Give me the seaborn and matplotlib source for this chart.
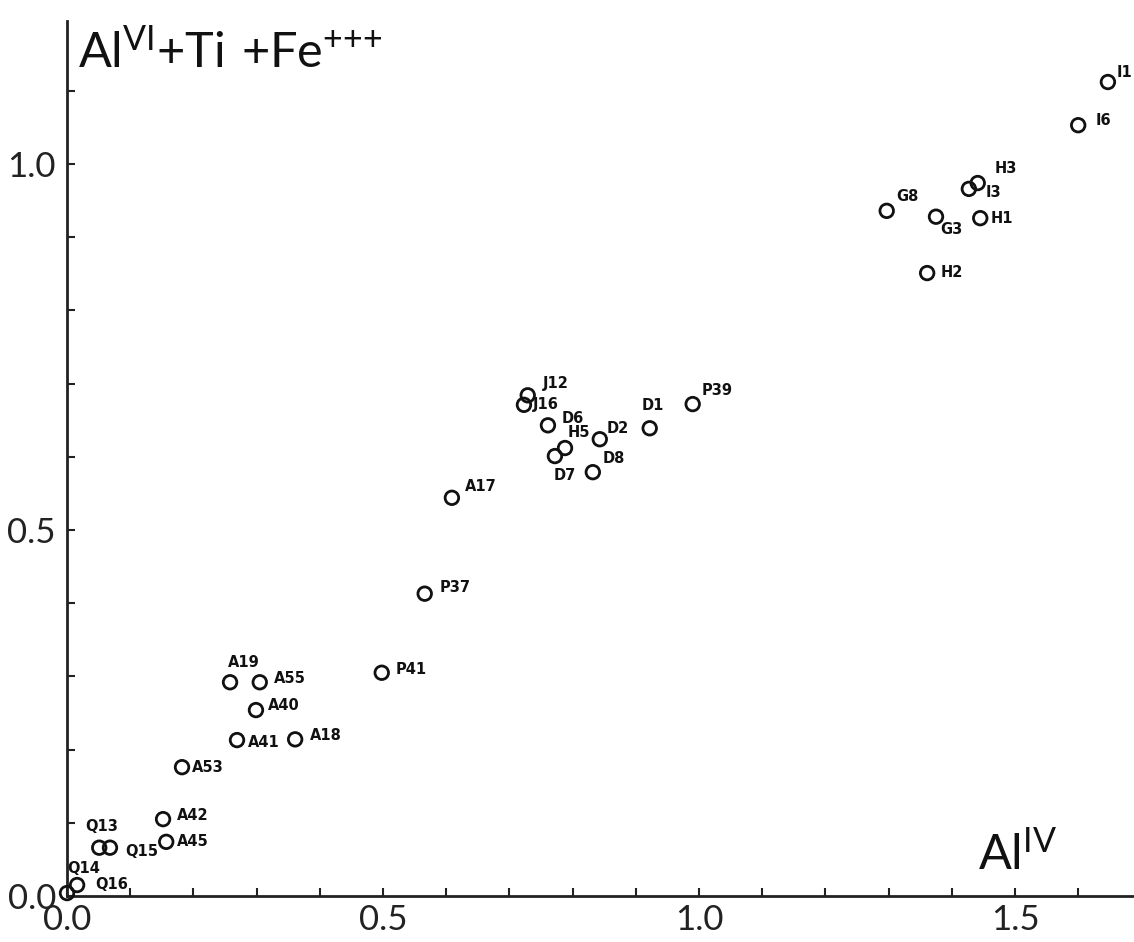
import matplotlib
matplotlib.use("Agg")
import matplotlib.pyplot as plt
import seaborn as sns
import pandas as pd
from matplotlib.ticker import MultipleLocator

# Sample points
labels = ["Q16", "Q14", "Q13", "Q15", "A42", "A45", "A53", "A41", "A18", "A40",
          "A19", "A55", "P41", "P37", "A17", "J12", "J16", "D6", "H5", "D7",
          "D2", "D8", "D1", "P39", "G8", "G3", "H1", "H2", "I3", "H3", "I6", "I1"]
al_iv = [0.000, 0.016, 0.051, 0.068, 0.152, 0.157, 0.182, 0.269, 0.361, 0.299,
         0.258, 0.305, 0.498, 0.566, 0.609, 0.729, 0.723, 0.761, 0.788, 0.772,
         0.843, 0.832, 0.922, 0.990, 1.297, 1.375, 1.445, 1.361, 1.427, 1.441, 1.600, 1.647]
al_vi_ti_fe = [0.004, 0.015, 0.066, 0.066, 0.105, 0.074, 0.176, 0.213, 0.214, 0.254,
               0.292, 0.292, 0.305, 0.413, 0.544, 0.684, 0.671, 0.643, 0.612, 0.601,
               0.624, 0.579, 0.639, 0.672, 0.936, 0.928, 0.926, 0.851, 0.966, 0.974, 1.053, 1.112]

x_ticks = [0.0, 0.5, 1.0, 1.5]
y_ticks = [0.0, 0.5, 1.0]

# label placement (pixel offsets from the marker, alignment)
label_pos = {
    "Q16": (28, 9, "left"), "Q14": (7, 17, "center"), "Q13": (2, 21, "center"),
    "Q15": (15, -4, "left"), "A42": (14, 4, "left"), "A45": (11, 0, "left"),
    "A53": (10, 0, "left"), "A41": (11, -2, "left"), "A18": (15, 4, "left"),
    "A40": (12, 5, "left"), "A19": (14, 20, "center"), "A55": (14, 4, "left"),
    "P41": (14, 3, "left"), "P37": (15, 6, "left"), "A17": (13, 11, "left"),
    "J12": (15, 12, "left"), "J16": (9, 0, "left"), "D6": (14, 7, "left"),
    "H5": (3, 16, "left"), "D7": (10, -19, "center"), "D2": (7, 11, "left"),
    "D8": (10, 14, "left"), "D1": (3, 23, "center"), "P39": (9, 14, "left"),
    "G8": (10, 14, "left"), "G3": (4, -13, "left"), "H1": (10, 0, "left"),
    "H2": (13, 1, "left"), "I3": (17, -4, "left"), "H3": (17, 15, "left"),
    "I6": (17, 5, "left"), "I1": (9, 10, "left"),
}

df = pd.DataFrame({"label": labels, "x": al_iv, "y": al_vi_ti_fe})

sns.set_style("ticks")
plt.rcParams["font.family"] = ["Lato", "DejaVu Sans"]
plt.rcParams["mathtext.default"] = "regular"

fig = plt.figure(figsize=(11.34, 9.42), dpi=100)
W, H = 1134, 942
ax = fig.add_axes([67 / W, 1 - 896 / H, (W - 67) / W, (896 - 21) / H])

sns.scatterplot(data=df, x="x", y="y", ax=ax, marker="o", s=95,
                facecolor="none", edgecolor="#111111", linewidth=2.0,
                legend=False, clip_on=False, zorder=5)

for _, row in df.iterrows():
    dx, dy, ha = label_pos[row["label"]]
    ax.annotate(row["label"], (row["x"], row["y"]), xytext=(dx, dy),
                textcoords="offset pixels", ha=ha, va="center",
                fontsize=10.5, fontweight="bold", color="#111111",
                family="DejaVu Sans", annotation_clip=False)

ax.set_xlim(0, (W - 67) / 632)
ax.set_ylim(0, (896 - 21) / 732)
ax.set_xticks(x_ticks)
ax.set_yticks(y_ticks)
ax.set_xticklabels([f"{v:.1f}" for v in x_ticks])
ax.set_yticklabels([f"{v:.1f}" for v in y_ticks])
ax.xaxis.set_minor_locator(MultipleLocator(0.1))
ax.yaxis.set_minor_locator(MultipleLocator(0.1))
ax.tick_params(which="both", direction="in", length=6, width=1.5, color="#222222")
ax.tick_params(axis="both", which="major", labelsize=25, labelcolor="#222222")
ax.tick_params(axis="x", pad=6)
ax.tick_params(axis="y", pad=8)
ax.set_xlabel("")
ax.set_ylabel("")

sns.despine(ax=ax)
for side in ["left", "bottom"]:
    ax.spines[side].set_linewidth(2)
    ax.spines[side].set_color("#222222")

ax.text(0.017, 1.185, r"$Al^{VI}{+}Ti\ {+}Fe^{{+}{+}{+}}$", fontsize=35, va="top",
        ha="left", color="#111111")
ax.text(1.441, 0.036, r"$Al^{IV}$", fontsize=35, va="baseline", ha="left",
        color="#111111")

fig.savefig("out.png", dpi=100)
